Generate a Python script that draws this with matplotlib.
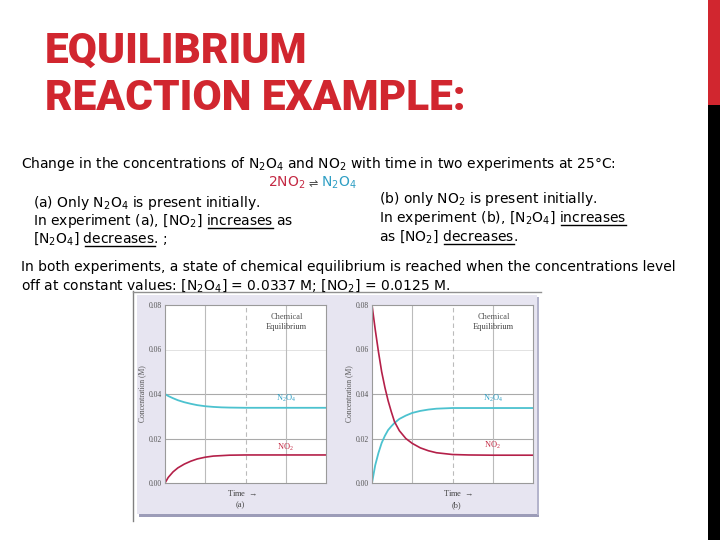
import matplotlib.pyplot as plt
from matplotlib.patches import Rectangle

plt.rcParams['mathtext.fontset'] = 'custom'
plt.rcParams['mathtext.rm'] = 'DejaVu Sans'
plt.rcParams['mathtext.default'] = 'regular'

# values; time is the fraction of the plotted span
t_a = [0, 0.02, 0.05, 0.08, 0.12, 0.16, 0.20, 0.25, 0.30, 0.35, 0.40, 0.50, 0.60, 0.75, 1.0]
n2o4_a = [0.0400, 0.0391, 0.0381, 0.0372, 0.0363, 0.0356, 0.0350, 0.0345, 0.0342,
          0.0340, 0.0339, 0.0338, 0.0338, 0.0338, 0.0338]
no2_a = [0.0, 0.0025, 0.0050, 0.0068, 0.0085, 0.0098, 0.0108, 0.0116, 0.0121,
         0.0123, 0.0125, 0.0126, 0.0126, 0.0126, 0.0126]

t_b = [0, 0.02, 0.04, 0.06, 0.08, 0.10, 0.12, 0.14, 0.17, 0.21, 0.25, 0.30, 0.35,
       0.40, 0.50, 0.60, 0.75, 1.0]
no2_b = [0.080, 0.069, 0.059, 0.050, 0.043, 0.037, 0.032, 0.0275, 0.0235, 0.0200,
         0.0178, 0.0158, 0.0145, 0.0136, 0.0128, 0.0126, 0.0125, 0.0125]
n2o4_b = [0.0, 0.0080, 0.0135, 0.0180, 0.0212, 0.0238, 0.0255, 0.0270, 0.0288,
          0.0303, 0.0315, 0.0324, 0.0330, 0.0334, 0.0337, 0.0337, 0.0337, 0.0337]

y_ticks = [0.00, 0.02, 0.04, 0.06, 0.08]
y_labels = ['0.00', '0.02', '0.04', '0.06', '0.08']

RED = '#d1262f'
TEAL_TXT = '#2f9fc4'
RED_TXT = '#c42a44'
CURVE_TEAL = '#4cc2cf'
CURVE_RED = '#b42049'
SANS = ['DejaVu Sans']
SERIF = ['Liberation Serif', 'DejaVu Serif']

fig = plt.figure(figsize=(7.2, 5.4), dpi=100)
bg = fig.add_axes([0, 0, 1, 1])
bg.set_xlim(0, 720)
bg.set_ylim(540, 0)
bg.axis('off')
renderer = fig.canvas.get_renderer()


def width_of(s, **kw):
    t = bg.text(0, 0, s, **kw)
    w = t.get_window_extent(renderer).width
    t.remove()
    return w


def say(x, y, s, under=(), size=10, color='black'):
    kw = dict(fontsize=size, color=color, family=SANS, va='baseline', ha='left')
    bg.text(x, y, s, **kw)
    for word in under:
        end = s.index(word) + len(word)
        x1 = x + width_of(s[:end], **kw)
        x0 = x1 - width_of(word, **kw)
        bg.plot([x0, x1], [y + 2.5, y + 2.5], color=color, lw=1)


# side bar
bg.add_patch(Rectangle((708, 0), 12, 105, color=RED, lw=0))
bg.add_patch(Rectangle((708, 105), 12, 435, color='black', lw=0))

# title
bg.text(45, 63, 'EQUILIBRIUM', fontsize=30.5, fontweight='black', color=RED,
        family=['Roboto', 'Liberation Sans'], va='baseline')
bg.text(45, 110, 'REACTION EXAMPLE:', fontsize=30.5, fontweight='black', color=RED,
        family=['Roboto', 'Liberation Sans'], va='baseline')

say(21, 168, 'Change in the concentrations of N$_2$O$_4$ and NO$_2$ with time in two experiments at 25°C:')

# reaction
ex = 268
say(ex, 187, '2NO$_2$', color=RED_TXT)
ex += width_of('2NO$_2$', fontsize=10, family=SANS) + 3
say(ex, 187, '⇌', size=8, color='#444444')
ex += width_of('⇌', fontsize=8, family=SANS) + 3
say(ex, 187, 'N$_2$O$_4$', color=TEAL_TXT)

say(33, 207, '(a) Only N$_2$O$_4$ is present initially.')
say(33, 225, 'In experiment (a), [NO$_2$] increases as', under=['increases'])
say(33, 243, '[N$_2$O$_4$] decreases. ;', under=['decreases'])

say(379, 203, '(b) only NO$_2$ is present initially.')
say(379, 222, 'In experiment (b), [N$_2$O$_4$] increases', under=['increases'])
say(379, 241, 'as [NO$_2$] decreases.', under=['decreases'])

say(21, 271, 'In both experiments, a state of chemical equilibrium is reached when the concentrations level')
say(21, 290, 'off at constant values: [N$_2$O$_4$] = 0.0337 M; [NO$_2$] = 0.0125 M.')

# figure frame
bg.add_patch(Rectangle((137, 295), 400, 219, color='#e7e5f1', lw=0))
bg.add_patch(Rectangle((139, 514), 400, 3, color='#9c9cb8', lw=0))
bg.add_patch(Rectangle((537, 297), 2, 218, color='#b4b4cc', lw=0))
bg.plot([133, 133], [291, 521], color='#808080', lw=1)
bg.plot([133, 541], [292, 292], color='#909090', lw=1)


def panel(left, t, n2o4, no2, tag, time_x, lab_y_n2o4, lab_y_no2):
    ax = fig.add_axes([left / 720, 1 - 483 / 540, 161 / 720, 178 / 540])
    ax.set_xlim(0, 1)
    ax.set_ylim(0, 0.08)
    ax.set_facecolor('white')
    for s in ax.spines.values():
        s.set_color('#9a9a9a')
        s.set_linewidth(0.8)
    ax.set_xticks([])
    ax.set_yticks(y_ticks)
    ax.set_yticklabels(y_labels, family=SERIF, fontsize=5.5, color='#555555')
    ax.tick_params(axis='y', length=0, pad=2)
    ax.axhline(0.06, color='#e2e2e2', lw=0.7)
    ax.axhline(0.04, color='#aaaaaa', lw=0.8)
    ax.axhline(0.02, color='#aaaaaa', lw=0.8)
    ax.axvline(0.25, color='#bbbbbb', lw=0.8)
    ax.axvline(0.75, color='#bbbbbb', lw=0.8)
    ax.axvline(0.5, color='#bbbbbb', lw=0.8, ls=(0, (4, 3)))
    ax.plot(t, n2o4, color=CURVE_TEAL, lw=1.3)
    ax.plot(t, no2, color=CURVE_RED, lw=1.2)
    ax.set_ylabel('Concentration (M)', family=SERIF, fontsize=5.5, color='#555555', labelpad=2)
    ax.text(0.755, 0.93, 'Chemical', transform=ax.transAxes, ha='center', va='center',
            family=SERIF, fontsize=6, color='#555555')
    ax.text(0.755, 0.875, 'Equilibrium', transform=ax.transAxes, ha='center', va='center',
            family=SERIF, fontsize=6, color='#444444')
    ax.text(0.75, lab_y_n2o4, 'N$_2$O$_4$', ha='center', va='center', family=SERIF,
            fontsize=6, color=TEAL_TXT, math_fontfamily='dejavuserif')
    ax.text(0.75, lab_y_no2, 'NO$_2$', ha='center', va='center', family=SERIF,
            fontsize=6, color=RED_TXT, math_fontfamily='dejavuserif')
    ax.text(time_x, -0.056, 'Time $\\rightarrow$', transform=ax.transAxes, ha='center',
            va='center', family=SERIF, fontsize=6, color='#444444',
            math_fontfamily='dejavuserif')
    ax.text(time_x - 0.01, -0.124, tag, transform=ax.transAxes, ha='center', va='center',
            family=SERIF, fontsize=6, color='#444444')
    return ax


panel(165, t_a, n2o4_a, no2_a, '(a)', 0.48, 0.0382, 0.0162)
panel(372, t_b, n2o4_b, no2_b, '(b)', 0.534, 0.0382, 0.017)

fig.savefig('out.png', dpi=100)
